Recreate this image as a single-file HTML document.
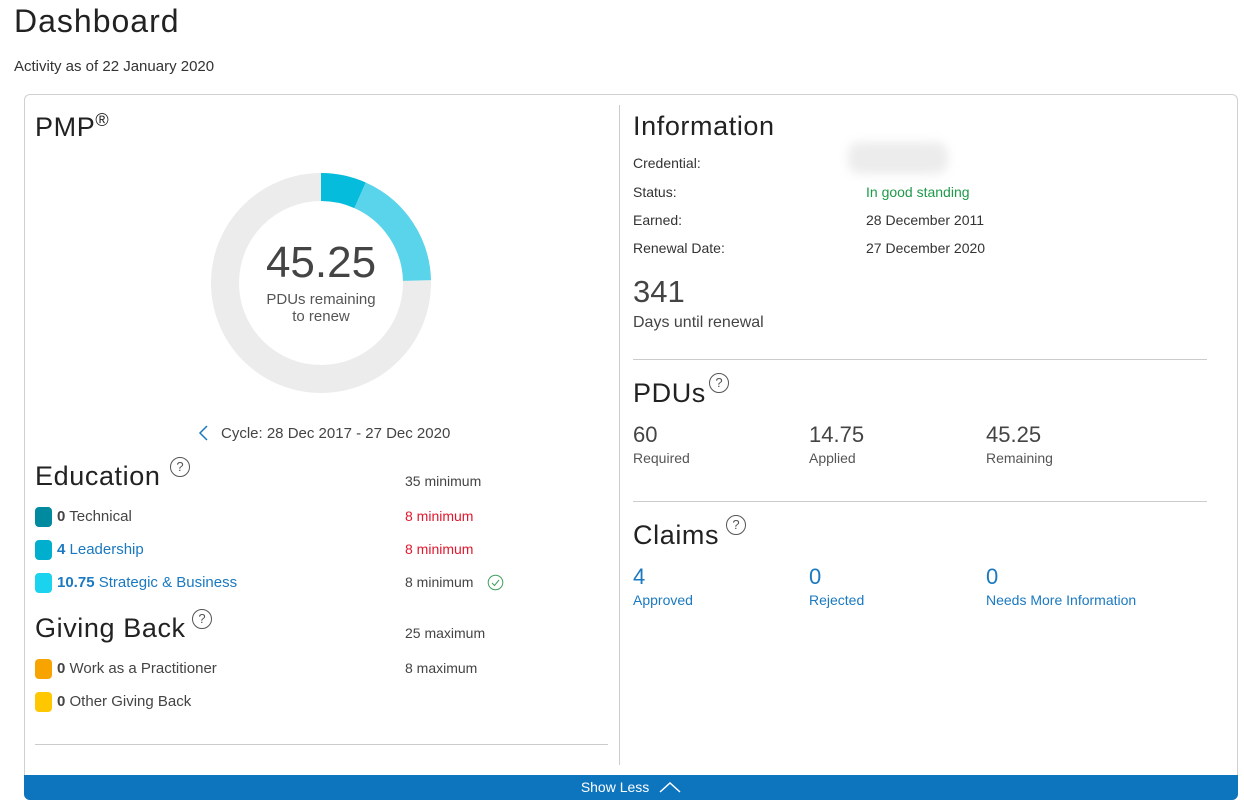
<!DOCTYPE html>
<html><head><style>
body{margin:0;width:1244px;height:804px;background:#fff;font-family:"Liberation Sans",sans-serif;color:#333;position:relative;overflow:hidden}
.a{position:absolute;white-space:nowrap}
.h{color:#222;letter-spacing:0.6px}
.sw{position:absolute;width:17px;height:20px;border-radius:4px}
.q{position:absolute;width:18px;height:18px;border:1.3px solid #555;border-radius:50%;font-size:13px;text-align:center;line-height:18px;color:#555}
.lbl{font-size:15px;color:#444}
.blue{color:#1a79c0}
.red{color:#e0182d}
</style></head><body>
<div class="a h" style="left:14px;top:3px;font-size:32px;letter-spacing:1px">Dashboard</div>
<div class="a" style="left:14px;top:58px;font-size:15px;color:#333">Activity as of 22 January 2020</div>
<div style="position:absolute;left:24px;top:94px;width:1212px;height:704px;border:1px solid #d0d0d0;border-radius:6px"></div>
<div style="position:absolute;left:619px;top:105px;width:1px;height:660px;background:#ccc"></div>
<div style="position:absolute;left:35px;top:744px;width:573px;height:1px;background:#ccc"></div>
<div style="position:absolute;left:24px;top:775px;width:1214px;height:25px;background:#0d74be;border-radius:0 0 6px 6px;color:#fff;font-size:14px;text-align:center;line-height:25px">Show Less <svg width="22" height="12" style="vertical-align:-1px;margin-left:6px"><polyline points="1,11 11,2 21,11" fill="none" stroke="#fff" stroke-width="1.5"/></svg></div>

<div class="a h" style="left:35px;top:110px;font-size:27px">PMP<sup style="font-size:18px">®</sup></div>
<svg class="a" style="left:200px;top:162px" width="250" height="250">
<circle cx="121" cy="121" r="96" fill="none" stroke="#ececec" stroke-width="28"/>
<path d="M121,25 A96,96 0 0 1 160.05,33.3" fill="none" stroke="#05bcdc" stroke-width="28"/>
<path d="M160.05,33.3 A96,96 0 0 1 217,118.5" fill="none" stroke="#5ad4ea" stroke-width="28"/>
</svg>
<div class="a" style="left:221px;top:238px;width:200px;text-align:center;font-size:44px;color:#444">45.25</div>
<div class="a" style="left:221px;top:291px;width:200px;text-align:center;font-size:15px;color:#555;line-height:17px">PDUs remaining<br>to renew</div>
<svg class="a" style="left:198px;top:425px" width="12" height="16"><polyline points="9,1 2,8 9,15" fill="none" stroke="#1a79c0" stroke-width="1.5"/></svg>
<div class="a" style="left:221px;top:425px;font-size:15px;color:#444">Cycle: 28 Dec 2017 - 27 Dec 2020</div>

<div class="a h" style="left:35px;top:461px;font-size:27px">Education</div>
<div class="q" style="left:170px;top:457px">?</div>
<div class="a lbl" style="left:405px;top:473px;font-size:14px">35 minimum</div>
<div class="sw" style="left:35px;top:507px;background:#008aa0"></div>
<div class="a lbl" style="left:57px;top:508px"><b>0</b> Technical</div>
<div class="a red" style="left:405px;top:508px;font-size:14px">8 minimum</div>
<div class="sw" style="left:35px;top:540px;background:#00afcd"></div>
<div class="a lbl blue" style="left:57px;top:541px"><b>4</b> Leadership</div>
<div class="a red" style="left:405px;top:541px;font-size:14px">8 minimum</div>
<div class="sw" style="left:35px;top:573px;background:#1bd2ef"></div>
<div class="a lbl blue" style="left:57px;top:574px"><b>10.75</b> Strategic &amp; Business</div>
<div class="a lbl" style="left:405px;top:574px;font-size:14px">8 minimum</div>
<svg class="a" style="left:487px;top:574px" width="17" height="17"><circle cx="8.5" cy="8.5" r="7.3" fill="none" stroke="#3f9d5c"/><polyline points="5,9 7.5,11.5 12,6" fill="none" stroke="#3f9d5c"/></svg>

<div class="a h" style="left:35px;top:613px;font-size:27px">Giving Back</div>
<div class="q" style="left:192px;top:609px">?</div>
<div class="a lbl" style="left:405px;top:625px;font-size:14px">25 maximum</div>
<div class="sw" style="left:35px;top:659px;background:#f7a400"></div>
<div class="a lbl" style="left:57px;top:660px"><b>0</b> Work as a Practitioner</div>
<div class="a lbl" style="left:405px;top:660px;font-size:14px">8 maximum</div>
<div class="sw" style="left:35px;top:692px;background:#ffc700"></div>
<div class="a lbl" style="left:57px;top:693px"><b>0</b> Other Giving Back</div>

<div class="a h" style="left:633px;top:111px;font-size:27px">Information</div>
<div class="a" style="left:633px;top:155px;font-size:14px">Credential:</div>
<div class="a" style="left:848px;top:142px;width:100px;height:32px;background:#ececec;border-radius:12px;filter:blur(5px)"></div>
<div class="a" style="left:633px;top:184px;font-size:14px">Status:</div>
<div class="a" style="left:866px;top:184px;font-size:14px;color:#1e9a4a">In good standing</div>
<div class="a" style="left:633px;top:212px;font-size:14px">Earned:</div>
<div class="a" style="left:866px;top:212px;font-size:14px">28 December 2011</div>
<div class="a" style="left:633px;top:240px;font-size:14px">Renewal Date:</div>
<div class="a" style="left:866px;top:240px;font-size:14px">27 December 2020</div>
<div class="a" style="left:633px;top:274px;font-size:31px;color:#444">341</div>
<div class="a" style="left:633px;top:314px;font-size:16px;color:#444">Days until renewal</div>
<div style="position:absolute;left:633px;top:359px;width:574px;height:1px;background:#ccc"></div>

<div class="a h" style="left:633px;top:378px;font-size:27px">PDUs</div>
<div class="q" style="left:709px;top:373px">?</div>
<div class="a" style="left:633px;top:422px;font-size:22px;color:#444">60</div>
<div class="a" style="left:633px;top:450px;font-size:14px;color:#555">Required</div>
<div class="a" style="left:809px;top:422px;font-size:22px;color:#444">14.75</div>
<div class="a" style="left:809px;top:450px;font-size:14px;color:#555">Applied</div>
<div class="a" style="left:986px;top:422px;font-size:22px;color:#444">45.25</div>
<div class="a" style="left:986px;top:450px;font-size:14px;color:#555">Remaining</div>
<div style="position:absolute;left:633px;top:501px;width:574px;height:1px;background:#ccc"></div>

<div class="a h" style="left:633px;top:520px;font-size:27px">Claims</div>
<div class="q" style="left:726px;top:515px">?</div>
<div class="a blue" style="left:633px;top:564px;font-size:22px">4</div>
<div class="a blue" style="left:633px;top:592px;font-size:14px">Approved</div>
<div class="a blue" style="left:809px;top:564px;font-size:22px">0</div>
<div class="a blue" style="left:809px;top:592px;font-size:14px">Rejected</div>
<div class="a blue" style="left:986px;top:564px;font-size:22px">0</div>
<div class="a blue" style="left:986px;top:592px;font-size:14px">Needs More Information</div>
</body></html>
